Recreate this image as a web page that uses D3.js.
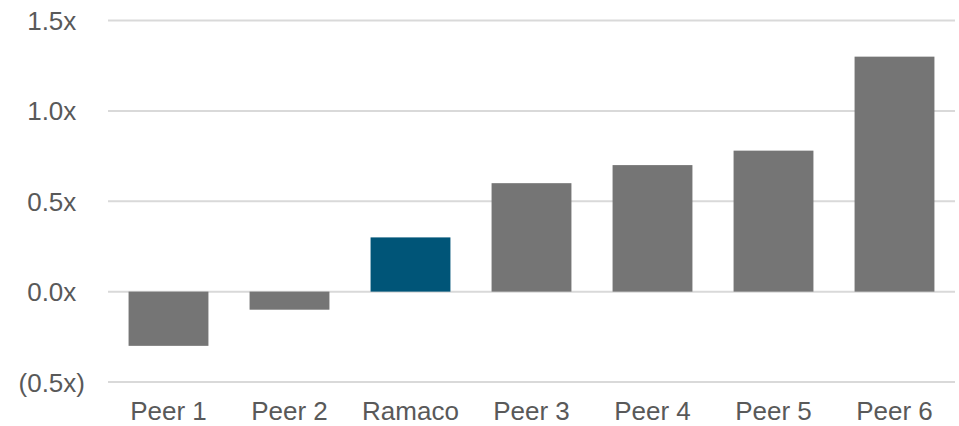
<!DOCTYPE html>
<html>
<head>
<meta charset="utf-8">
<script src="https://cdn.jsdelivr.net/npm/d3@7"></script>
<style>
  html, body { margin: 0; padding: 0; background: #fff; }
  svg { display: block; }
  text { font-family: "Liberation Sans", Arial, sans-serif; fill: #595959; }
</style>
</head>
<body>
<svg id="chart" width="959" height="426"></svg>
<script>
const categories = ["Peer 1", "Peer 2", "Ramaco", "Peer 3", "Peer 4", "Peer 5", "Peer 6"];
const values = [-0.3, -0.1, 0.3, 0.6, 0.7, 0.78, 1.3];
const highlight = "Ramaco";
const yTicks = [-0.5, 0.0, 0.5, 1.0, 1.5];
const yTickLabels = ["(0.5x)", "0.0x", "0.5x", "1.0x", "1.5x"];

(function () {
const svg = d3.select("#chart");
const plotLeft = 108, plotRight = 955, plotTop = 20.5, plotBottom = 382;
const fontSize = 26;

const x = d3.scaleBand().domain(categories).range([plotLeft, plotRight]).paddingInner(0.34).paddingOuter(0.17);
const y = d3.scaleLinear().domain([-0.5, 1.5]).range([plotBottom, plotTop]);

// gridlines
svg.append("g").selectAll("line").data(yTicks).join("line")
  .attr("x1", plotLeft).attr("x2", plotRight)
  .attr("y1", d => y(d)).attr("y2", d => y(d))
  .attr("stroke", "#d9d9d9").attr("stroke-width", 2);

// bars
svg.append("g").selectAll("rect").data(categories).join("rect")
  .attr("x", d => x(d))
  .attr("width", x.bandwidth())
  .attr("y", (d, i) => y(Math.max(0, values[i])))
  .attr("height", (d, i) => Math.abs(y(values[i]) - y(0)))
  .attr("fill", d => d === highlight ? "#005578" : "#757575");

// y axis labels (positive numbers padded by width of ")")
const yAxis = d3.axisLeft(y).tickValues(yTicks)
  .tickFormat((d, i) => yTickLabels[i]).tickSize(0).tickPadding(0);
const gy = svg.append("g").attr("transform", "translate(85,0)").call(yAxis);
gy.select(".domain").remove();
gy.selectAll("text")
  .attr("font-size", fontSize)
  .attr("font-family", null)
  .attr("fill", "#595959")
  .attr("dx", d => d < 0 ? 0 : -fontSize * 0.333)
  .attr("dy", "0.35em");
gy.attr("font-size", null).attr("font-family", null);

// x axis labels
const xAxis = d3.axisBottom(x).tickSize(0).tickPadding(0);
const gx = svg.append("g").attr("transform", "translate(0,420)").call(xAxis);
gx.select(".domain").remove();
gx.selectAll("text")
  .attr("font-size", fontSize)
  .attr("font-family", null)
  .attr("fill", "#595959")
  .attr("y", 0)
  .attr("dy", 0);
gx.attr("font-size", null).attr("font-family", null);
})();
</script>
</body>
</html>
